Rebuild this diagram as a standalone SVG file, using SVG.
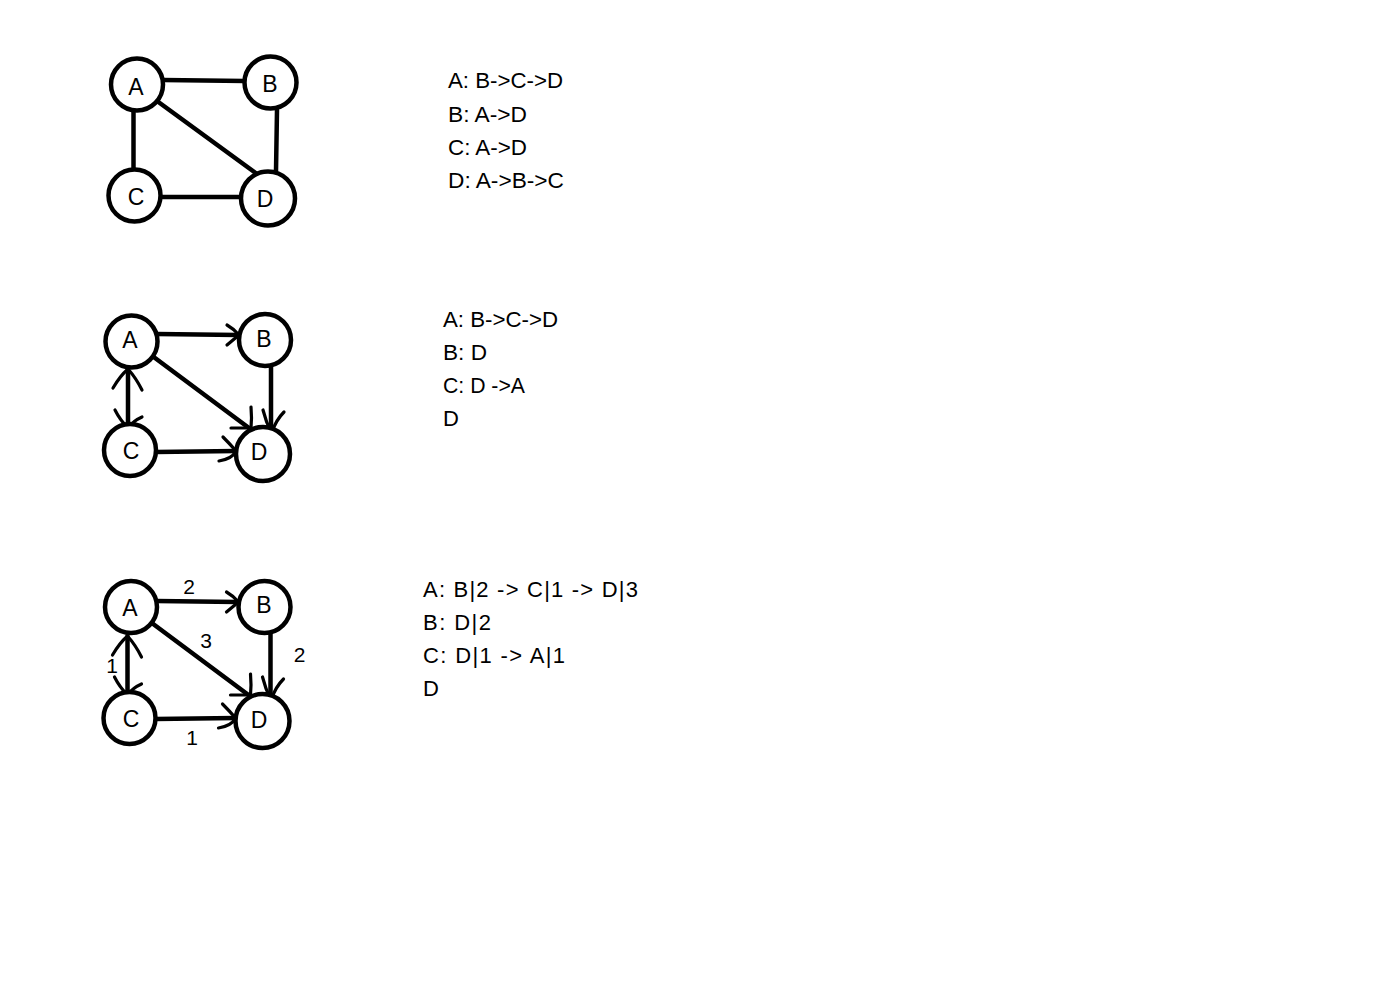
<svg xmlns="http://www.w3.org/2000/svg" width="1384" height="994" viewBox="0 0 1384 994">
<style>
.node{fill:#fff;stroke:#000;stroke-width:4.5}
.lbl{font-family:"Liberation Sans",Arial,sans-serif;font-size:23px;fill:#000;text-anchor:middle}
.edge{fill:none;stroke:#000;stroke-width:4.5;stroke-linecap:round}
.head{fill:none;stroke:#000;stroke-width:3.2;stroke-linecap:round;stroke-linejoin:round}
.w{font-family:"Liberation Sans",Arial,sans-serif;font-size:21px;fill:#000;text-anchor:middle}
.list{font-family:"Liberation Sans",Arial,sans-serif;font-size:22px;fill:#000}
</style>
<rect width="1384" height="994" fill="#fff"/>

<!-- Graph 1: undirected -->
<g id="g1-connectors">
<path class="edge" d="M163,80 L245,81"/>
<path class="edge" d="M277,110 L276,171"/>
<path class="edge" d="M133.5,111 L133.5,169"/>
<path class="edge" d="M161,197 L241,197"/>
<path class="edge" d="M157,101 L257,174"/>
</g>
<g id="g1-A"><circle class="node" cx="137" cy="84.5" r="26"/><text class="lbl" x="136" y="95" font-size="24">A</text></g>
<g id="g1-B"><circle class="node" cx="270.5" cy="82.5" r="26"/><text class="lbl" x="270" y="92" font-size="24">B</text></g>
<g id="g1-C"><circle class="node" cx="134.5" cy="195.5" r="26"/><text class="lbl" x="136" y="205" font-size="24">C</text></g>
<g id="g1-D"><circle class="node" cx="268" cy="198.5" r="27"/><text class="lbl" x="265" y="207" font-size="24">D</text></g>

<!-- Graph 2: directed -->
<g id="g2-connectors">
<path class="edge" d="M157,334 L238,335"/>
<path class="head" d="M227,325 Q234,329 239,335 Q233,340 227,345"/>
<path class="edge" d="M271,366 L271,431"/>
<path class="head" d="M263,410 Q266,422 271,432 M284,412 Q276,420 272,432"/>
<path class="edge" d="M151,355 L249,428"/>
<path class="head" d="M251,407 Q252,418 251,428 L231,428"/>
<path class="edge" d="M156,452 L236,451"/>
<path class="head" d="M223,437 Q230,444 236,451 Q232,459 219,461"/>
<path class="edge" d="M128,369 L128,426"/>
<path class="head" d="M113,388 Q120,376 128,369 Q136,378 142,390"/>
<path class="head" d="M115,410 Q120,420 128,428 M142,417 Q133,421 128,428"/>
</g>
<g id="g2-A"><circle class="node" cx="131.5" cy="341.5" r="26"/><text class="lbl" x="130" y="348">A</text></g>
<g id="g2-B"><circle class="node" cx="265" cy="340" r="26"/><text class="lbl" x="264" y="347">B</text></g>
<g id="g2-C"><circle class="node" cx="130" cy="450" r="26"/><text class="lbl" x="131" y="459">C</text></g>
<g id="g2-D"><circle class="node" cx="263" cy="454" r="27"/><text class="lbl" x="259" y="460">D</text></g>

<!-- Graph 3: weighted directed -->
<g id="g3-connectors" transform="translate(-0.5,267)">
<path class="edge" d="M157,334 L238,335"/>
<path class="head" d="M227,325 Q234,329 239,335 Q233,340 227,345"/>
<path class="edge" d="M271,366 L271,431"/>
<path class="head" d="M263,410 Q266,422 271,432 M284,412 Q276,420 272,432"/>
<path class="edge" d="M151,355 L249,428"/>
<path class="head" d="M251,407 Q252,418 251,428 L231,428"/>
<path class="edge" d="M156,452 L236,451"/>
<path class="head" d="M223,437 Q230,444 236,451 Q232,459 219,461"/>
<path class="edge" d="M128,369 L128,426"/>
<path class="head" d="M113,388 Q120,376 128,369 Q136,378 142,390"/>
<path class="head" d="M115,410 Q120,420 128,428 M142,417 Q133,421 128,428"/>
</g>
<g id="g3-weights">
<text class="w" x="189" y="594">2</text>
<text class="w" x="206" y="648">3</text>
<text class="w" x="112" y="673">1</text>
<text class="w" x="299.5" y="662">2</text>
<text class="w" x="192" y="745">1</text>
</g>
<g id="g3-A"><circle class="node" cx="131" cy="607" r="26"/><text class="lbl" x="130" y="616">A</text></g>
<g id="g3-B"><circle class="node" cx="264.5" cy="607" r="26"/><text class="lbl" x="264" y="613">B</text></g>
<g id="g3-C"><circle class="node" cx="129.5" cy="718" r="26"/><text class="lbl" x="131" y="727">C</text></g>
<g id="g3-D"><circle class="node" cx="262.5" cy="721" r="27"/><text class="lbl" x="259" y="728">D</text></g>

<!-- Adjacency lists -->
<g id="list1">
<text class="list" x="448" y="88" textLength="115" lengthAdjust="spacingAndGlyphs">A: B-&gt;C-&gt;D</text>
<text class="list" x="448" y="121.5" textLength="79" lengthAdjust="spacingAndGlyphs">B: A-&gt;D</text>
<text class="list" x="448" y="155" textLength="79" lengthAdjust="spacingAndGlyphs">C: A-&gt;D</text>
<text class="list" x="448" y="188" textLength="116" lengthAdjust="spacingAndGlyphs">D: A-&gt;B-&gt;C</text>
</g>
<g id="list2">
<text class="list" x="443" y="327" textLength="115" lengthAdjust="spacingAndGlyphs">A: B-&gt;C-&gt;D</text>
<text class="list" x="443" y="360" textLength="44" lengthAdjust="spacingAndGlyphs">B: D</text>
<text class="list" x="443" y="393" textLength="82" lengthAdjust="spacingAndGlyphs">C: D -&gt;A</text>
<text class="list" x="443" y="426">D</text>
</g>
<g id="list3">
<text class="list" x="423" y="597" textLength="215" lengthAdjust="spacing">A: B|2 -&gt; C|1 -&gt; D|3</text>
<text class="list" x="423" y="630" textLength="68" lengthAdjust="spacing">B: D|2</text>
<text class="list" x="423" y="663" textLength="142" lengthAdjust="spacing">C: D|1 -&gt; A|1</text>
<text class="list" x="423" y="696">D</text>
</g>
</svg>
